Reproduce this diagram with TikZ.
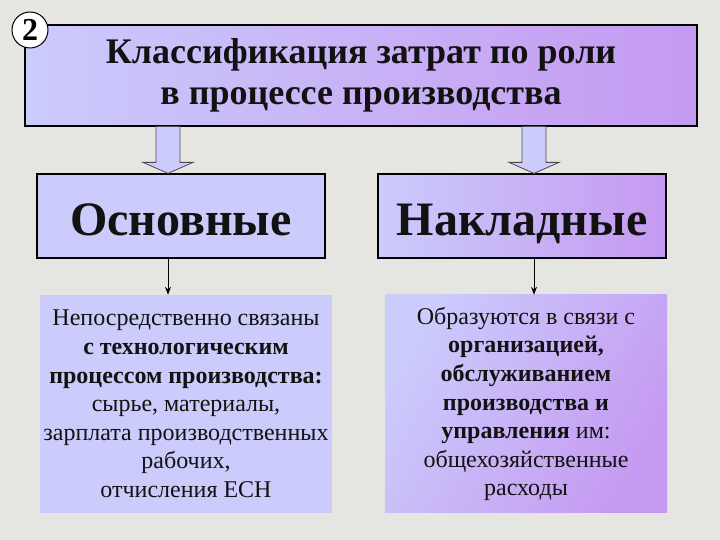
\documentclass[tikz,border=0pt]{standalone}
\usepackage{fontspec}
\setmainfont{Liberation Serif}
\usetikzlibrary{calc,arrows.meta}
\definecolor{paper}{HTML}{E5E5E2}
\definecolor{lav}{HTML}{CBCBFC}
\definecolor{lilac}{HTML}{C59AF1}
\definecolor{ink}{HTML}{121212}
\tikzset{
  hdr/.style  ={draw=black, line width=1.2pt, left color=lav, right color=lilac,
                minimum width=672, minimum height=101, align=center, text=ink,
                font=\fontsize{36}{41}\selectfont\bfseries},
  kind/.style ={draw=black, line width=1.2pt, minimum width=288, minimum height=84,
                text height=49, text depth=9, text=ink,
                font=\fontsize{48}{52}\selectfont\bfseries},
  desc/.style ={minimum height=218, align=center, text=ink, inner sep=0pt,
                font=\fontsize{24}{28.6}\selectfont},
  badge/.style={circle, draw=black, line width=1pt, fill=white, minimum size=36,
                inner sep=0pt, font=\fontsize{32}{32}\selectfont\bfseries},
  blk/.style  ={draw=black!70, line width=0.8pt, fill=lav},
  fl/.style   ={draw=black, line width=1pt, -{Stealth[length=8pt,width=6pt]}},
}
% block arrow between two nodes at a given x
\newcommand{\blkarrow}[3]{%
  \path (#1,0 |- #2.south) coordinate (bt) (#1,0 |- #3.north) coordinate (bb);
  \draw[blk] ($(bt)+(-12,0)$) -- ($(bb)+(-12,11)$) -- ($(bb)+(-25,11)$) -- (bb)
        -- ($(bb)+(25,11)$) -- ($(bb)+(12,11)$) -- ($(bt)+(12,0)$) -- cycle;}

\begin{document}
\begin{tikzpicture}[x=1pt,y=1pt]
  \fill[paper] (0,0) rectangle (720,540);
  \useasboundingbox (0,0) rectangle (720,540);

  % title
  \node[hdr] (title) at (361,464.5) {Классификация затрат по роли\\в процессе производства};
  \node[badge] (num) at (30,510) {2};

  % two kinds of costs
  \node[kind, fill=lav] (main) at (181,324) {Основные};
  \node[kind, left color=lav, right color=lilac] (over) at (522,324) {Накладные};
  \blkarrow{168}{title}{main}
  \blkarrow{534}{title}{over}

  % descriptions
  \node[desc, minimum width=292, fill=lav] (mtxt) at (186,136)
       {Непосредственно связаны\\
        \textbf{с технологическим}\\
        \textbf{процессом производства:}\\
        сырье, материалы,\\
        зарплата производственных\\
        рабочих,\\
        отчисления ЕСН};
  \node[desc, minimum width=282, shading=axis, left color=lav, right color=lilac,
        shading angle=60] (otxt) at (526,136)
       {Образуются в связи с\\
        \textbf{организацией,}\\
        \textbf{обслуживанием}\\
        \textbf{производства и}\\
        \textbf{управления} им:\\
        общехозяйственные\\
        расходы};
  \draw[fl] (168,0 |- main.south) -- (168,0 |- mtxt.north);
  \draw[fl] (534,0 |- over.south) -- (534,0 |- otxt.north);
\end{tikzpicture}
\end{document}
